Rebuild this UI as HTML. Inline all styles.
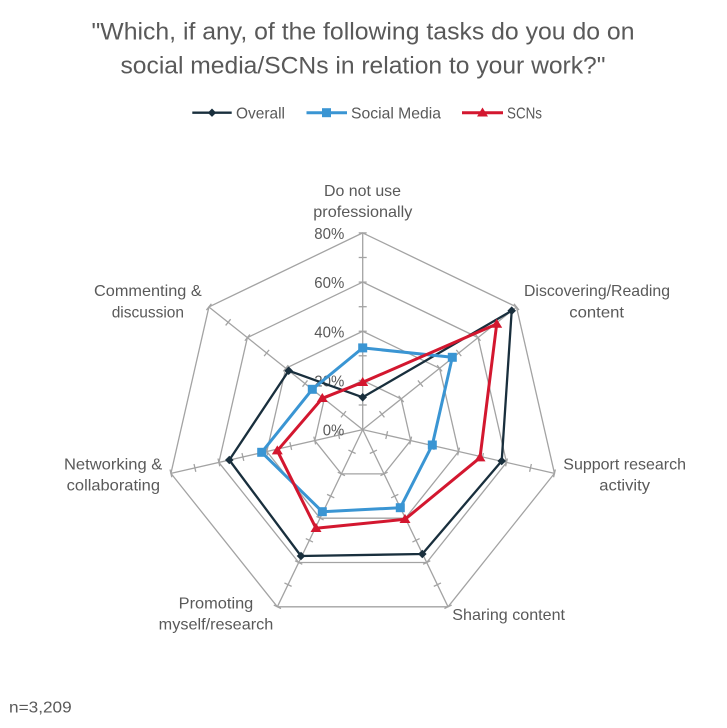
<!DOCTYPE html>
<html>
<head>
<meta charset="utf-8">
<style>
html,body{margin:0;padding:0;background:#fff;}
svg{display:block;}
text{font-family:"Liberation Sans",Arial,sans-serif;fill:#595959;}
</style>
</head>
<body>
<svg width="727" height="728" viewBox="0 0 727 728" xmlns="http://www.w3.org/2000/svg">
<rect width="727" height="728" fill="#fff"/>
<!-- Title -->
<text x="363" y="39.5" font-size="24" text-anchor="middle" textLength="543" lengthAdjust="spacingAndGlyphs">"Which, if any, of the following tasks do you do on</text>
<text x="363" y="73.5" font-size="24" text-anchor="middle" textLength="485" lengthAdjust="spacingAndGlyphs">social media/SCNs in relation to your work?"</text>

<!-- Legend -->
<line x1="192.3" y1="112.7" x2="231.7" y2="112.7" stroke="#192f3d" stroke-width="2.3"/>
<polygon points="212,108.5 216.2,112.7 212,116.9 207.8,112.7" fill="#192f3d"/>
<text x="236" y="118.3" font-size="16" textLength="49" lengthAdjust="spacingAndGlyphs">Overall</text>
<line x1="306.5" y1="112.7" x2="347" y2="112.7" stroke="#3a95d3" stroke-width="3"/>
<rect x="322" y="108.2" width="9" height="9" fill="#3a95d3"/>
<text x="351" y="118.3" font-size="16" textLength="90" lengthAdjust="spacingAndGlyphs">Social Media</text>
<line x1="462" y1="112.7" x2="503" y2="112.7" stroke="#d3172f" stroke-width="3"/>
<polygon points="482.5,107.5 488,116.5 477,116.5" fill="#d3172f"/>
<text x="507" y="118.3" font-size="16" textLength="35" lengthAdjust="spacingAndGlyphs">SCNs</text>

<!-- Grid rings -->
<g fill="none" stroke="#a3a3a3" stroke-width="1.3">
<polygon points="362.7,232.9 516.48,306.96 554.47,473.37 448.04,606.82 277.36,606.82 170.93,473.37 208.92,306.96"/>
<polygon points="362.7,282.08 478.04,337.62 506.53,462.43 426.71,562.52 298.69,562.52 218.87,462.43 247.36,337.62"/>
<polygon points="362.7,331.25 439.59,368.28 458.58,451.48 405.37,518.21 320.03,518.21 266.82,451.48 285.81,368.28"/>
<polygon points="362.7,380.43 401.15,398.94 410.64,440.54 384.04,473.91 341.36,473.91 314.76,440.54 324.25,398.94"/>
</g>
<!-- Spokes with ticks -->
<defs>
<g id="spoke">
<line x1="362.7" y1="429.6" x2="362.7" y2="232.9"/>
<line x1="358.7" y1="405.0" x2="366.7" y2="405.0"/>
<line x1="358.7" y1="380.4" x2="366.7" y2="380.4"/>
<line x1="358.7" y1="355.8" x2="366.7" y2="355.8"/>
<line x1="358.7" y1="331.25" x2="366.7" y2="331.25"/>
<line x1="358.7" y1="306.7" x2="366.7" y2="306.7"/>
<line x1="358.7" y1="282.1" x2="366.7" y2="282.1"/>
<line x1="358.7" y1="257.5" x2="366.7" y2="257.5"/>
<line x1="358.7" y1="232.9" x2="366.7" y2="232.9"/>
</g>
</defs>
<g stroke="#a3a3a3" stroke-width="1.3" fill="none">
<use href="#spoke"/>
<use href="#spoke" transform="rotate(51.4286 362.7 429.6)"/>
<use href="#spoke" transform="rotate(102.8571 362.7 429.6)"/>
<use href="#spoke" transform="rotate(154.2857 362.7 429.6)"/>
<use href="#spoke" transform="rotate(205.7143 362.7 429.6)"/>
<use href="#spoke" transform="rotate(257.1429 362.7 429.6)"/>
<use href="#spoke" transform="rotate(308.5714 362.7 429.6)"/>
</g>

<!-- Tick labels -->
<g font-size="16" text-anchor="end">
<text x="344.3" y="238.8" textLength="30" lengthAdjust="spacingAndGlyphs">80%</text>
<text x="344.3" y="288.1" textLength="30" lengthAdjust="spacingAndGlyphs">60%</text>
<text x="344.3" y="337.3" textLength="30" lengthAdjust="spacingAndGlyphs">40%</text>
<text x="344.3" y="386.4" textLength="30" lengthAdjust="spacingAndGlyphs">20%</text>
<text x="344.3" y="435.6" textLength="21.6" lengthAdjust="spacingAndGlyphs">0%</text>
</g>

<!-- Category labels -->
<g font-size="16">
<text x="324" y="196" textLength="77" lengthAdjust="spacingAndGlyphs">Do not use</text>
<text x="313.3" y="217" textLength="99" lengthAdjust="spacingAndGlyphs">professionally</text>
<text x="524" y="296" textLength="146" lengthAdjust="spacingAndGlyphs">Discovering/Reading</text>
<text x="569.3" y="317.5" textLength="54.7" lengthAdjust="spacingAndGlyphs">content</text>
<text x="563.3" y="469.3" textLength="122.7" lengthAdjust="spacingAndGlyphs">Support research</text>
<text x="599.3" y="490.7" textLength="50.7" lengthAdjust="spacingAndGlyphs">activity</text>
<text x="452.3" y="620" textLength="112.7" lengthAdjust="spacingAndGlyphs">Sharing content</text>
<text x="178.7" y="608.3" textLength="74.6" lengthAdjust="spacingAndGlyphs">Promoting</text>
<text x="158.7" y="629.3" textLength="114.6" lengthAdjust="spacingAndGlyphs">myself/research</text>
<text x="64" y="469.3" textLength="98.3" lengthAdjust="spacingAndGlyphs">Networking &amp;</text>
<text x="66.7" y="490.7" textLength="93.3" lengthAdjust="spacingAndGlyphs">collaborating</text>
<text x="94" y="296" textLength="107.7" lengthAdjust="spacingAndGlyphs">Commenting &amp;</text>
<text x="111.7" y="317.7" textLength="72.3" lengthAdjust="spacingAndGlyphs">discussion</text>
<text x="9" y="712.3" textLength="62.7" lengthAdjust="spacingAndGlyphs">n=3,209</text>
</g>

<!-- Series: Overall -->
<polygon points="362.7,397.3 511.7,310.7 501.7,461 422.3,554 301,556 229.3,460 288.7,370.7" fill="none" stroke="#192f3d" stroke-width="2.3" stroke-linejoin="round"/>
<g fill="#192f3d">
<polygon points="362.7,393 367,397.3 362.7,401.6 358.4,397.3"/>
<polygon points="511.7,306.4 516,310.7 511.7,315 507.4,310.7"/>
<polygon points="501.7,456.7 506,461 501.7,465.3 497.4,461"/>
<polygon points="422.3,549.7 426.6,554 422.3,558.3 418,554"/>
<polygon points="301,551.7 305.3,556 301,560.3 296.7,556"/>
<polygon points="229.3,455.7 233.6,460 229.3,464.3 225,460"/>
<polygon points="288.7,366.4 293,370.7 288.7,375 284.4,370.7"/>
</g>

<!-- Series: Social Media -->
<polygon points="362.7,347.9 452.3,357.3 432.3,445 400.3,507.7 322.3,511.7 261.7,452.3 312.3,389.3" fill="none" stroke="#3a95d3" stroke-width="3" stroke-linejoin="round"/>
<g fill="#3a95d3">
<rect x="358.2" y="343.4" width="9" height="9"/>
<rect x="447.8" y="352.8" width="9" height="9"/>
<rect x="427.8" y="440.5" width="9" height="9"/>
<rect x="395.8" y="503.2" width="9" height="9"/>
<rect x="317.8" y="507.2" width="9" height="9"/>
<rect x="257.2" y="447.8" width="9" height="9"/>
<rect x="307.8" y="384.8" width="9" height="9"/>
</g>

<!-- Series: SCNs -->
<polygon points="362.7,382.3 496.7,324 480,457.7 405,519.3 316,528.3 277.3,450.7 322.3,398.3" fill="none" stroke="#d3172f" stroke-width="3" stroke-linejoin="round"/>
<g fill="#d3172f">
<polygon points="362.7,377 368.2,386 357.2,386"/>
<polygon points="496.7,318.7 502.2,327.7 491.2,327.7"/>
<polygon points="480,452.4 485.5,461.4 474.5,461.4"/>
<polygon points="405,514 410.5,523 399.5,523"/>
<polygon points="316,523 321.5,532 310.5,532"/>
<polygon points="277.3,445.4 282.8,454.4 271.8,454.4"/>
<polygon points="322.3,393 327.8,402 316.8,402"/>
</g>
</svg>
</body>
</html>
